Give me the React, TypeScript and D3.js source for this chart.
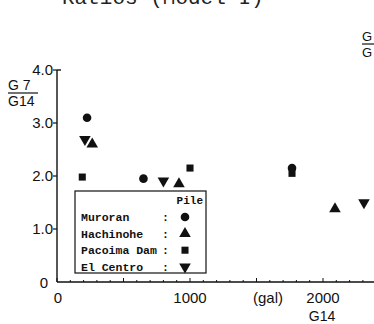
import React from "react";
import { scaleLinear, symbol, symbolCircle, symbolTriangle, symbolSquare, range } from "d3";

const seriesNames = ["Muroran", "Hachinohe", "Pacoima Dam", "El Centro"];
const muroran = [
  [226, 3.1],
  [650, 1.95],
  [1767, 2.15],
];
const hachinohe = [
  [265, 2.6],
  [917, 1.85],
  [2090, 1.38],
];
const pacoima = [
  [190, 1.98],
  [1000, 2.15],
  [1767, 2.05],
];
const elCentro = [
  [210, 2.69],
  [800, 1.91],
  [2308, 1.5],
];
const yTicks = [1, 2, 3, 4];
const yTickLabels = ["1.0", "2.0", "3.0", "4.0"];
const xTickLabels = ["0", "1000", "2000"];

const W = 374;
const H = 324;

const x = scaleLinear().domain([0, 1000]).range([57, 190]);
const y = scaleLinear().domain([0, 4]).range([282, 70]);

const shapes = [symbolCircle, symbolTriangle, symbolSquare, symbolTriangle];
const sizes = [58, 58, 50, 58];
const flips = [false, false, false, true];
const allSeries = [muroran, hachinohe, pacoima, elCentro];

const Marker = ({ i, cx, cy }: { i: number; cx: number; cy: number }) => {
  const d = symbol(shapes[i], sizes[i])() || "";
  return (
    <path
      d={d}
      fill="#111"
      transform={`translate(${cx},${cy})${flips[i] ? " rotate(180)" : ""}`}
    />
  );
};

export default function App() {
  const sans = "'Liberation Sans', Arial, sans-serif";
  const mono = "'Liberation Mono', 'DejaVu Sans Mono', monospace";
  const minorTicks = range(0, 2400, 100);

  return (
    <svg
      width={W}
      height={H}
      style={{ position: "absolute", left: 0, top: 0, background: "#fff" }}
    >
      {/* title, cut by the top edge as in the scan */}
      <text x={62} y={4} fontFamily={mono} fontSize={21} fill="#222">
        Ratios (Model I)
      </text>

      {/* top-right fraction stub */}
      <text x={362} y={41} fontFamily={sans} fontSize={13} fill="#111">G</text>
      <line x1={362} x2={374} y1={44} y2={44} stroke="#111" strokeWidth={1.2} />
      <text x={362} y={57} fontFamily={sans} fontSize={13} fill="#111">G</text>

      {/* y label */}
      <text x={8} y={90} fontFamily={sans} fontSize={14} fill="#111">G 7</text>
      <line x1={8} x2={38} y1={93} y2={93} stroke="#111" strokeWidth={1.2} />
      <text x={8} y={106} fontFamily={sans} fontSize={14} fill="#111">G14</text>

      {/* axes */}
      <line x1={x(0)} x2={x(0)} y1={y(4)} y2={y(0)} stroke="#111" strokeWidth={1.4} />
      <line x1={x(0)} x2={W} y1={y(0)} y2={y(0)} stroke="#111" strokeWidth={1.4} />
      <line x1={x(0)} x2={x(0) + 4} y1={y(4)} y2={y(4)} stroke="#111" strokeWidth={1.4} />

      {yTicks.map((t, i) => (
        <g key={t}>
          <line x1={x(0) - 4} x2={x(0)} y1={y(t)} y2={y(t)} stroke="#111" strokeWidth={1.2} />
          <text
            x={x(0) - 4}
            y={y(t) + 5}
            textAnchor="end"
            fontFamily={sans}
            fontSize={15}
            fill="#111"
          >
            {yTickLabels[i]}
          </text>
        </g>
      ))}
      <text x={48} y={288} textAnchor="end" fontFamily={sans} fontSize={15} fill="#111">0</text>

      {minorTicks.map((t) => (
        <line
          key={t}
          x1={x(t)}
          x2={x(t)}
          y1={y(0)}
          y2={y(0) - (t % 500 === 0 ? 4 : 2)}
          stroke="#111"
          strokeWidth={1}
        />
      ))}
      {xTickLabels.map((l) => (
        <text
          key={l}
          x={x(+l) + (l === "0" ? 1 : 0)}
          y={303}
          textAnchor="middle"
          fontFamily={sans}
          fontSize={15}
          fill="#111"
        >
          {l}
        </text>
      ))}
      <text x={268} y={303} textAnchor="middle" fontFamily={sans} fontSize={15} fill="#111">
        (gal)
      </text>
      <text x={322} y={321} textAnchor="middle" fontFamily={sans} fontSize={14} fill="#111">
        G14
      </text>

      {/* points */}
      {allSeries.map((s, i) =>
        s.map((p, j) => <Marker key={`${i}-${j}`} i={i} cx={x(p[0])} cy={y(p[1])} />)
      )}

      {/* legend */}
      <rect x={75} y={191} width={131} height={82} fill="#fff" stroke="#111" strokeWidth={1.2} />
      <text x={203} y={204} textAnchor="end" fontFamily={mono} fontWeight="bold" fontSize={11} fill="#111">
        Pile
      </text>
      {seriesNames.map((n, i) => (
        <g key={n}>
          <text x={81} y={221 + i * 16.6} fontFamily={mono} fontWeight="bold" fontSize={11.5} fill="#111">
            {n}
          </text>
          <text x={162} y={221 + i * 16.6} fontFamily={mono} fontWeight="bold" fontSize={11.5} fill="#111">
            :
          </text>
          <Marker i={i} cx={185} cy={217 + i * 16.6} />
        </g>
      ))}
    </svg>
  );
}
